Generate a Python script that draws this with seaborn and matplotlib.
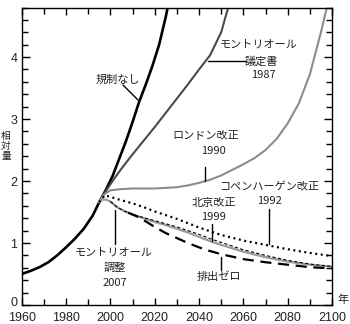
import numpy as np
import pandas as pd
import matplotlib
matplotlib.use("Agg")
import matplotlib.pyplot as plt
import matplotlib.transforms as mtransforms
import seaborn as sns
from matplotlib.ticker import MultipleLocator

# ---------------- data ----------------
years_none = [1960, 1964, 1968, 1972, 1976, 1980, 1984, 1988, 1992, 1995, 1998,
              2001, 2004, 2007, 2010, 2013, 2016, 2019, 2022, 2025, 2027]
vals_none = [0.50, 0.55, 0.61, 0.69, 0.80, 0.93, 1.07, 1.23, 1.44, 1.66, 1.86,
             2.08, 2.36, 2.64, 2.95, 3.28, 3.56, 3.86, 4.20, 4.65, 5.00]

years_mp87 = [1995, 1998, 2001, 2005, 2010, 2015, 2020, 2025, 2030, 2035, 2040,
              2045, 2050, 2053, 2055]
vals_mp87 = [1.66, 1.84, 2.00, 2.20, 2.43, 2.65, 2.87, 3.10, 3.33, 3.56, 3.80,
             4.03, 4.40, 4.78, 5.00]

years_lon = [1995, 1997, 2000, 2005, 2010, 2020, 2030, 2035, 2040, 2045, 2050,
             2055, 2060, 2065, 2070, 2075, 2080, 2085, 2090, 2095, 2098, 2100]
vals_lon = [1.66, 1.78, 1.85, 1.87, 1.88, 1.88, 1.90, 1.93, 1.97, 2.02, 2.09,
            2.18, 2.27, 2.37, 2.50, 2.68, 2.93, 3.25, 3.72, 4.40, 4.85, 5.10]

years_cop = [1995, 1997.5, 2000, 2005, 2010, 2015, 2020, 2025, 2030, 2040, 2050,
             2060, 2070, 2080, 2090, 2100]
vals_cop = [1.66, 1.77, 1.745, 1.69, 1.64, 1.58, 1.51, 1.45, 1.39, 1.25, 1.13,
            1.04, 0.97, 0.90, 0.84, 0.79]

years_adj = [1995, 1996, 1998, 2000, 2003, 2006, 2010, 2015, 2020, 2025, 2030,
             2035, 2040, 2045, 2050, 2060, 2070, 2080, 2090, 2100]
vals_adj = [1.66, 1.70, 1.70, 1.67, 1.58, 1.52, 1.46, 1.40, 1.34, 1.29, 1.23,
            1.17, 1.10, 1.03, 0.97, 0.86, 0.77, 0.70, 0.65, 0.62]

years_bei = [2000, 2003, 2006, 2010, 2015, 2020, 2025, 2030, 2035, 2040, 2045,
             2050, 2060, 2070, 2080, 2090, 2100]
vals_bei = [1.67, 1.58, 1.52, 1.46, 1.41, 1.36, 1.31, 1.26, 1.20, 1.14, 1.07,
            1.01, 0.89, 0.80, 0.72, 0.66, 0.62]

years_zero = [2008, 2012, 2015, 2020, 2025, 2030, 2035, 2040, 2045, 2050, 2060,
              2070, 2080, 2090, 2100]
vals_zero = [1.49, 1.43, 1.37, 1.26, 1.16, 1.08, 1.00, 0.93, 0.87, 0.82, 0.74,
             0.69, 0.65, 0.61, 0.59]

x_ticks = [1960, 1980, 2000, 2020, 2040, 2060, 2080, 2100]
y_ticks = [0, 1, 2, 3, 4]

# ---------------- figure ----------------
sns.set_theme(style="white")
plt.rcParams['font.family'] = ['Noto Sans CJK JP', 'DejaVu Sans']

W, H = 350, 324
fig = plt.figure(figsize=(W / 100, H / 100), dpi=100)
ax_l, ax_r, ax_t, ax_b = 21.7, 332.0, 7.5, 305.0
ax = fig.add_axes([ax_l / W, 1 - ax_b / H, (ax_r - ax_l) / W, (ax_b - ax_t) / H])

def series(ys, vs):
    return pd.DataFrame({"year": ys, "value": vs})

kw = dict(ax=ax, x="year", y="value", legend=False, sort=False)
sns.lineplot(data=series(years_none, vals_none), color="black", linewidth=1.9, **kw)
sns.lineplot(data=series(years_mp87, vals_mp87), color="#4a4a4a", linewidth=1.5, **kw)
sns.lineplot(data=series(years_lon, vals_lon), color="#8c8c8c", linewidth=1.5, **kw)
sns.lineplot(data=series(years_adj, vals_adj), color="#9a9a9a", linewidth=1.6, **kw)
l_bei = sns.lineplot(data=series(years_bei, vals_bei), color="black", linewidth=0.8, **kw).lines[-1]
l_bei.set_dashes([3, 2])
l_cop = sns.lineplot(data=series(years_cop, vals_cop), color="black", linewidth=1.6, **kw).lines[-1]
l_cop.set_dashes([0.9, 1.6])
l_zero = sns.lineplot(data=series(years_zero, vals_zero), color="black", linewidth=1.6, **kw).lines[-1]
l_zero.set_dashes([5, 3])

ax.set_xlim(1960, 2100)
ax.set_ylim(0, 4.8)
ax.set_xticks(x_ticks)
ax.set_yticks(y_ticks)
ax.xaxis.set_minor_locator(MultipleLocator(10))
ax.yaxis.set_minor_locator(MultipleLocator(0.2))
ax.set_xlabel("")
ax.set_ylabel("")
for s in ax.spines.values():
    s.set_visible(True)
    s.set_color("black")
    s.set_linewidth(1.0)
ax.tick_params(which="both", direction="in", top=True, right=True, bottom=True, left=True,
               color="black", width=1.0)
ax.tick_params(which="major", length=5, labelsize=9, labelcolor="#222222")
ax.tick_params(axis="x", which="major", pad=5)
ax.tick_params(axis="y", which="major", pad=3, length=6)
ax.tick_params(which="minor", length=4)
for t in ax.get_xticklabels() + ax.get_yticklabels():
    t.set_fontfamily("Liberation Sans")
# nudge the "0" label up a little so it sits clear of "1960", as in the reference
zero_lbl = ax.yaxis.get_major_ticks()[0].label1
zero_lbl.set_transform(zero_lbl.get_transform() +
                       mtransforms.ScaledTranslation(0, 3 / 100, fig.dpi_scale_trans))

# ---------------- annotations (pixel layout -> data) ----------------
def px(xp, yp):
    return (1960 + (xp - ax_l) / (ax_r - ax_l) * 140, (ax_b - yp) / (ax_b - ax_t) * 4.8)

def leader(p0, p1):
    ax.plot(*zip(px(*p0), px(*p1)), color="black", linewidth=1.0)

def label(xp, yp, s, size=8):
    ax.text(*px(xp, yp), s, ha="center", va="center", fontsize=size, color="#222222")

label(118, 80, "規制なし")
leader((123, 85), (138, 100))

label(259, 45, "モントリオール")
label(261.5, 61, "議定書")
label(263.5, 75.5, "1987")
leader((208, 61), (246, 61))

label(206, 136, "ロンドン改正")
label(213.5, 151, "1990")
leader((205, 167), (205, 181))

label(269.5, 187, "コペンハーゲン改正")
label(270, 201.5, "1992")
leader((269.3, 208.5), (269.3, 244))

label(213.5, 203.5, "北京改正")
label(213.5, 217.5, "1999")
leader((211.7, 223.5), (211.7, 240.5))

label(219, 277, "排出ゼロ")
leader((220.7, 257), (220.7, 270))

label(114, 252.5, "モントリオール")
label(115, 268, "調整")
label(115, 282.5, "2007")
leader((115, 210), (115, 244))

fig.text(6 / W, 1 - 146 / H, "相\n対\n量", ha="center", va="center", fontsize=7,
         linespacing=0.95, color="#222222")
fig.text(343 / W, 1 - 300 / H, "年", ha="center", va="center", fontsize=8, color="#222222")

fig.savefig("out.png", dpi=100)
